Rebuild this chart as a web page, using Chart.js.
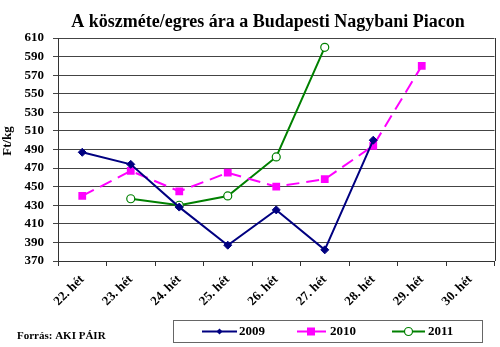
<!DOCTYPE html>
<html>
<head>
<meta charset="utf-8">
<script src="https://cdn.jsdelivr.net/npm/chart.js@4/dist/chart.umd.min.js"></script>
<style>
  html, body { margin: 0; padding: 0; background: #fff; }
  canvas { display: block; }
</style>
</head>
<body>
<canvas id="chart" width="500" height="347"></canvas>
<script>
// weekly prices, Ft/kg
const weeks = ["22. hét", "23. hét", "24. hét", "25. hét", "26. hét", "27. hét", "28. hét", "29. hét", "30. hét"];
const prices2009 = [487, 474, 428, 387, 425, 382, 500, null, null];
const prices2010 = [440, 467, 445, 465, 450, 458, 494, 580, null];
const prices2011 = [null, 437, 430, 440, 482, 600, null, null, null];

const SERIF = "'Liberation Serif', 'Times New Roman', serif";

// title, axis caption, right border, source note and boxed legend
const decorations = {
  id: "decorations",
  afterDraw(chart) {
    const ctx = chart.ctx;
    const area = chart.chartArea;
    ctx.save();

    ctx.strokeStyle = "#333";
    ctx.lineWidth = 1;
    ctx.beginPath();
    ctx.moveTo(Math.round(area.right) + 0.5, area.top);
    ctx.lineTo(Math.round(area.right) + 0.5, area.bottom);
    ctx.stroke();

    ctx.fillStyle = "#000";
    ctx.textAlign = "center";
    ctx.textBaseline = "middle";
    ctx.font = "bold 18px " + SERIF;
    ctx.fillText("A köszméte/egres ára a Budapesti Nagybani Piacon", 268, 22);

    ctx.save();
    ctx.translate(8, 141);
    ctx.rotate(-Math.PI / 2);
    ctx.font = "bold 13px " + SERIF;
    ctx.fillText("Ft/kg", 0, 0);
    ctx.restore();

    ctx.textAlign = "left";
    ctx.font = "bold 11px " + SERIF;
    ctx.fillText("Forrás: AKI PÁIR", 17, 336);

    // legend box
    ctx.strokeStyle = "#666";
    ctx.strokeRect(173.5, 320.5, 309, 22);

    const cy = 331.5;
    ctx.font = "bold 13px " + SERIF;

    ctx.strokeStyle = "#000080";
    ctx.lineWidth = 2;
    ctx.beginPath(); ctx.moveTo(202, cy); ctx.lineTo(237, cy); ctx.stroke();
    ctx.fillStyle = "#000080";
    ctx.beginPath();
    ctx.moveTo(219.5, cy - 3); ctx.lineTo(222.5, cy); ctx.lineTo(219.5, cy + 3); ctx.lineTo(216.5, cy);
    ctx.closePath(); ctx.fill();
    ctx.fillStyle = "#000";
    ctx.fillText("2009", 239, cy);

    ctx.strokeStyle = "#FF00FF";
    ctx.setLineDash([12, 6]);
    ctx.beginPath(); ctx.moveTo(297, cy); ctx.lineTo(326, cy); ctx.stroke();
    ctx.setLineDash([]);
    ctx.fillStyle = "#FF00FF";
    ctx.fillRect(307, cy - 4, 8, 8);
    ctx.fillStyle = "#000";
    ctx.fillText("2010", 330, cy);

    ctx.strokeStyle = "#008000";
    ctx.beginPath(); ctx.moveTo(392, cy); ctx.lineTo(425, cy); ctx.stroke();
    ctx.fillStyle = "#fff";
    ctx.lineWidth = 1.2;
    ctx.beginPath(); ctx.arc(408.5, cy, 4, 0, Math.PI * 2); ctx.fill(); ctx.stroke();
    ctx.fillStyle = "#000";
    ctx.fillText("2011", 428, cy);

    ctx.restore();
  }
};

new Chart(document.getElementById("chart"), {
  type: "line",
  data: {
    labels: weeks,
    datasets: [
      {
        label: "2009",
        data: prices2009,
        borderColor: "#000080",
        backgroundColor: "#000080",
        borderWidth: 2,
        pointStyle: "rectRot",
        pointRadius: 4,
        pointBorderWidth: 1
      },
      {
        label: "2010",
        data: prices2010,
        borderColor: "#FF00FF",
        backgroundColor: "#FF00FF",
        borderWidth: 2,
        borderDash: [13, 7],
        pointStyle: "rect",
        pointRadius: 5.5,
        pointBorderWidth: 0
      },
      {
        label: "2011",
        data: prices2011,
        borderColor: "#008000",
        backgroundColor: "#ffffff",
        borderWidth: 2,
        pointStyle: "circle",
        pointRadius: 4,
        pointBorderWidth: 1.2
      }
    ]
  },
  options: {
    responsive: false,
    animation: false,
    spanGaps: false,
    layout: { padding: { top: 38, right: 5, left: 0, bottom: 0 } },
    elements: { line: { tension: 0 } },
    plugins: {
      legend: { display: false },
      title: { display: false },
      tooltip: { enabled: false }
    },
    scales: {
      x: {
        offset: true,
        grid: { offset: true, drawOnChartArea: false, tickLength: 5, color: "#333" },
        border: { color: "#333" },
        ticks: {
          minRotation: 45,
          maxRotation: 45,
          color: "#000",
          padding: 6,
          font: { family: SERIF, size: 13, weight: "bold" }
        },
        afterFit(scale) { scale.height = 86; }
      },
      y: {
        min: 370,
        max: 610,
        grid: { color: "#444", tickLength: 5 },
        border: { color: "#333" },
        ticks: {
          stepSize: 20,
          autoSkip: false,
          color: "#000",
          padding: 9,
          font: { family: SERIF, size: 13, weight: "bold" }
        },
        afterFit(scale) { scale.width = 58; }
      }
    }
  },
  plugins: [decorations]
});
</script>
</body>
</html>
